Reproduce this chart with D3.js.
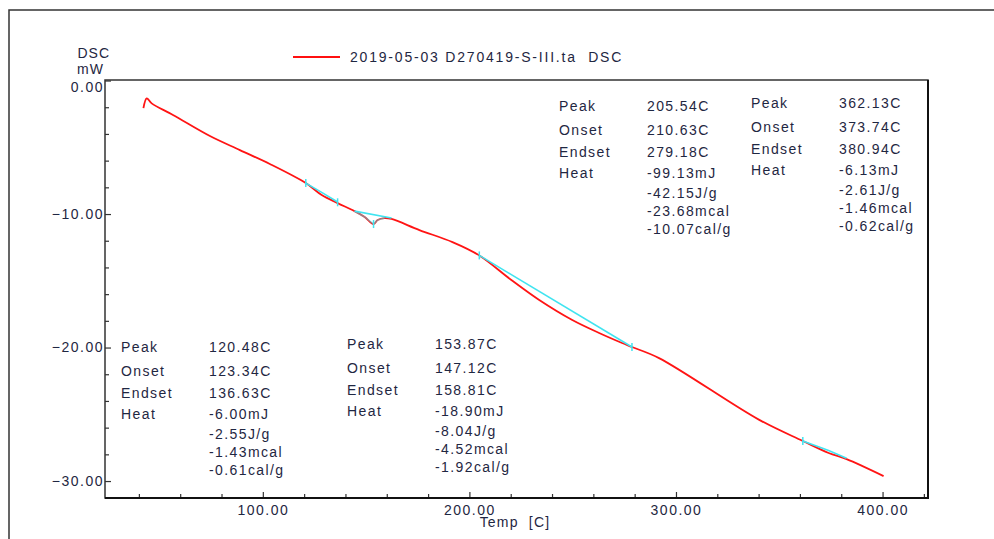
<!DOCTYPE html>
<html>
<head>
<meta charset="utf-8">
<script src="https://cdn.jsdelivr.net/npm/d3@7"></script>
<style>
body { margin:0; background:#fff; }
text { font-family: Arial, "Liberation Sans", sans-serif; }
</style>
</head>
<body>
<div id="canvas" class="canvas" style="width:994px;height:539px;"></div>
<script>
// --- DSC curve (temp in C, heat flow in mW)
var temp = [42.2, 43.8, 46.2, 56.5, 74.4, 88.9, 103.4, 120.8, 128.5, 136.2, 144.4, 149.3, 153.6, 155.6, 158.9, 162.3, 175.8, 191.8, 204.8, 220.3, 233.8, 249.8, 262.8, 273.9, 278.7, 291.8, 340.1, 361.4, 373.9, 382.6, 400.5];
var dsc  = [-2.07, -1.33, -1.71, -2.58, -4.16, -5.21, -6.25, -7.68, -8.58, -9.18, -9.78, -10.22, -10.75, -10.45, -10.30, -10.37, -11.2, -12.1, -13.1, -14.94, -16.44, -17.94, -18.91, -19.66, -19.96, -20.79, -25.4, -27.0, -27.9, -28.36, -29.63];

// --- integration baselines (cyan)
var baseA = [[120.8, -7.68], [128.5, -8.38], [136.2, -9.1]];
var baseB = [[144.4, -9.78], [162.3, -10.30]];
var baseBdip = [[144.4, -9.78], [149.3, -10.22], [153.6, -10.75], [155.6, -10.45], [158.9, -10.30]];
var baseC = [[204.8, -13.1], [278.7, -19.96]];
var baseD = [[361.4, -27.0], [373.9, -27.72], [382.6, -28.3]];
var baseMarks = [[120.8, -7.68], [136.2, -9.12], [153.6, -10.75], [204.8, -13.1], [278.7, -19.96], [361.4, -27.0]];

// --- ticks
var xMajor = [100, 200, 300, 400];
var xMinor = [40, 60, 80, 120, 140, 160, 180, 220, 240, 260, 280, 320, 340, 360, 380, 420];
var yMajor = [0, -10, -20, -30];
var yMinor = [-2, -4, -6, -8, -12, -14, -16, -18, -22, -24, -26, -28];

// --- peak annotations
var annLabels = ["Peak", "Onset", "Endset", "Heat"];
var annValues = [
    ["120.48C", "123.34C", "136.63C", "-6.00mJ", "-2.55J/g", "-1.43mcal", "-0.61cal/g"],
    ["153.87C", "147.12C", "158.81C", "-18.90mJ", "-8.04J/g", "-4.52mcal", "-1.92cal/g"],
    ["205.54C", "210.63C", "279.18C", "-99.13mJ", "-42.15J/g", "-23.68mcal", "-10.07cal/g"],
    ["362.13C", "373.74C", "380.94C", "-6.13mJ", "-2.61J/g", "-1.46mcal", "-0.62cal/g"]
];
var legendText = "2019-05-03 D270419-S-III.ta  DSC";

// --- Margin convention
var M = {top:80, right:66, bottom:41, left:105};
var outerWidth = 994, outerHeight = 539;
var w = outerWidth - M.left - M.right,
    h = outerHeight - M.top - M.bottom;

var textCol = '#1f2742';

var svg = d3.select('.canvas')
    .append('svg')
    .attr('width', outerWidth)
    .attr('height', outerHeight);

// outer frame (only top and left visible)
svg.append('path')
    .attr('d', 'M9,539 V10 H994')
    .style('fill', 'none')
    .style('stroke', '#333')
    .style('stroke-width', 1.5);

var plot = svg.append('g')
    .attr('transform', 'translate(' + M.left + ',' + M.top + ')');

var x = d3.scaleLinear().domain([23.6, 422]).range([0, w]);
var y = d3.scaleLinear().domain([-31.27, 0.04]).range([h, 0]);

// --- axes
plot.append('g').attr('transform', 'translate(0,' + h + ')')
    .call(d3.axisBottom(x).tickValues(xMajor).tickSize(-6).tickPadding(7).tickFormat(d3.format('.2f')));
plot.append('g').attr('transform', 'translate(0,' + h + ')')
    .call(d3.axisBottom(x).tickValues(xMinor).tickSize(-4).tickFormat(''));
var yAxis = plot.append('g')
    .call(d3.axisLeft(y).tickValues(yMajor).tickSize(-6).tickPadding(1).tickFormat(d3.format('.2f')));
plot.append('g')
    .call(d3.axisLeft(y).tickValues(yMinor).tickSize(-4).tickFormat(''));

plot.selectAll('.domain').remove();
plot.selectAll('.tick line').style('stroke', '#333').style('stroke-width', 1.2);
plot.selectAll('.tick text')
    .style('font-size', '14px')
    .style('letter-spacing', '1.5px')
    .style('fill', textCol);
// the top label sits a bit lower, as in the original
yAxis.selectAll('.tick text').attr('dy', function(d){ return d === 0 ? '0.8em' : '0.3em'; });

// frame of plot area
plot.append('rect')
    .attr('width', w).attr('height', h)
    .style('fill', 'none')
    .style('stroke', '#333')
    .style('stroke-width', 1.5);
plot.append('path')
    .attr('d', 'M0,' + h + ' H' + w + ' V0')
    .style('fill', 'none')
    .style('stroke', '#111')
    .style('stroke-width', 2);

// --- axis titles
svg.append('text').attr('x', 110).attr('y', 58).attr('text-anchor', 'end')
    .style('font-size', '14px').style('letter-spacing', '1px').style('fill', textCol).text('DSC');
svg.append('text').attr('x', 104).attr('y', 74).attr('text-anchor', 'end')
    .style('font-size', '14px').style('letter-spacing', '1px').style('fill', textCol).text('mW');
svg.append('text').attr('x', 515).attr('y', 527).attr('text-anchor', 'middle')
    .style('font-size', '14px').style('letter-spacing', '1.2px').style('fill', textCol)
    .style('white-space', 'pre').text('Temp  [C]');

// --- legend
svg.append('line').attr('x1', 293).attr('x2', 340).attr('y1', 57).attr('y2', 57)
    .style('stroke', '#ff1010').style('stroke-width', 2);
svg.append('text').attr('x', 350).attr('y', 62)
    .style('font-size', '14px').style('letter-spacing', '1.8px').style('fill', textCol)
    .style('white-space', 'pre').text(legendText);

// --- curve
var pts = temp.map(function(t, i){ return [t, dsc[i]]; });
var line = d3.line()
    .x(function(d){ return x(d[0]); })
    .y(function(d){ return y(d[1]); })
    .curve(d3.curveCatmullRom);

plot.append('path').datum(pts)
    .attr('d', line)
    .style('fill', 'none')
    .style('stroke', '#ff1414')
    .style('stroke-width', 1.8);

// --- baselines
var lin = d3.line().x(function(d){ return x(d[0]); }).y(function(d){ return y(d[1]); });
[baseA, baseB, baseC, baseD].forEach(function(b){
    plot.append('path').datum(b)
        .attr('d', lin)
        .style('fill', 'none')
        .style('stroke', '#40e4f0')
        .style('stroke-width', 1.6);
});
plot.append('path').datum(baseBdip)
    .attr('d', lin)
    .style('fill', 'none')
    .style('stroke', '#40e4f0')
    .style('stroke-opacity', 0.5)
    .style('stroke-width', 1.6);

baseMarks.forEach(function(d){
    plot.append('line')
        .attr('x1', x(d[0])).attr('x2', x(d[0]))
        .attr('y1', y(d[1]) - 4).attr('y2', y(d[1]) + 4)
        .style('stroke', '#40e4f0')
        .style('stroke-width', 1.5);
});

// --- annotation blocks
var blockPos = [[121, 347], [347, 344], [559, 106], [751, 103]];
var rowOff = [0, 24, 46, 67, 87, 105, 123];

annValues.forEach(function(vals, k){
    var g = svg.append('g').attr('transform', 'translate(' + blockPos[k][0] + ',' + (blockPos[k][1] + 5) + ')');
    annLabels.forEach(function(l, i){
        g.append('text').attr('x', 0).attr('y', rowOff[i])
            .style('font-size', '14px').style('letter-spacing', '1.4px').style('fill', textCol)
            .text(l);
    });
    vals.forEach(function(v, i){
        g.append('text').attr('x', 88).attr('y', rowOff[i])
            .style('font-size', '14px').style('letter-spacing', '1.4px').style('fill', textCol)
            .text(v);
    });
});
</script>
</body>
</html>
